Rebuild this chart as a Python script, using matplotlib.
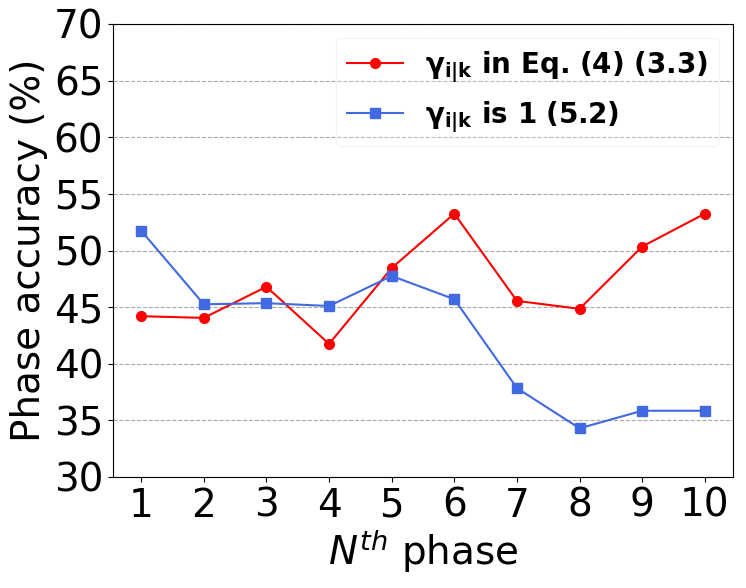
import matplotlib
matplotlib.use("Agg")
import matplotlib.pyplot as plt

phases = [1, 2, 3, 4, 5, 6, 7, 8, 9, 10]
eq4_acc = [44.2, 44.05, 46.8, 41.75, 48.45, 53.25, 45.55, 44.85, 50.35, 53.25]
one_acc = [51.75, 45.25, 45.35, 45.1, 47.75, 45.7, 37.85, 34.3, 35.85, 35.85]
labels = [r'$\mathbf{\gamma_{i|k}}$ in Eq. (4) (3.3)', r'$\mathbf{\gamma_{i|k}}$ is 1 (5.2)']

fig = plt.figure(figsize=(7.46, 5.88), dpi=100)
ax = fig.add_axes([113 / 746, 111 / 588, 620 / 746, 453 / 588])
ax.plot(phases, eq4_acc, color='red', marker='o', markersize=7, linewidth=1.5, label=labels[0])
ax.plot(phases, one_acc, color='royalblue', marker='s', markersize=7, linewidth=1.5, label=labels[1])
ax.set_ylim(30, 70)
ax.set_xticks(phases)
ax.set_yticks(range(30, 71, 5))
ax.tick_params(labelsize=28)
ax.yaxis.grid(True, linestyle='--', color='darkgray')
ax.set_axisbelow(True)
ax.set_xlabel(r'$N^{th}$ phase', fontsize=28, labelpad=2)
ax.set_ylabel('Phase accuracy (%)', fontsize=28)
leg = ax.legend(loc='upper right', prop={'size': 20, 'weight': 'bold'}, framealpha=0.2)
fig.savefig('out.png', dpi=100)
